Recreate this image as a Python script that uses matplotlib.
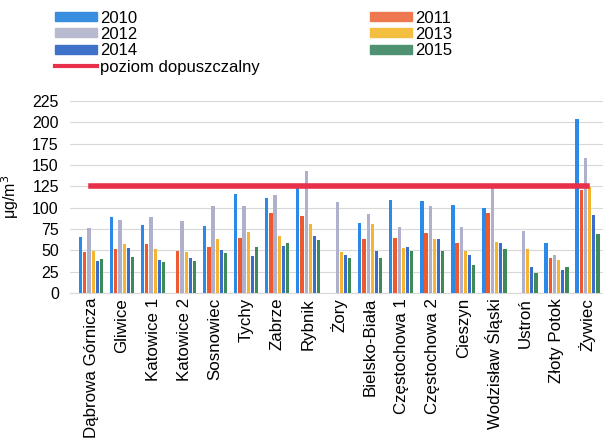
import numpy as np
import matplotlib.pyplot as plt
from matplotlib.lines import Line2D
from matplotlib.patches import Patch

plt.rcParams['font.family'] = ['Liberation Sans', 'DejaVu Sans']

miasta = ["Dąbrowa Górnicza", "Gliwice", "Katowice 1", "Katowice 2", "Sosnowiec",
          "Tychy", "Zabrze", "Rybnik", "Żory", "Bielsko-Biała", "Częstochowa 1",
          "Częstochowa 2", "Cieszyn", "Wodzisław Śląski", "Ustroń", "Złoty Potok", "Żywiec"]

lata = ["2010", "2011", "2012", "2013", "2014", "2015"]

v2010 = [65, 89, 80, 0, 79, 116, 111, 124, 0, 82, 109, 108, 103, 100, 0, 59, 204]
v2011 = [48, 52, 57, 49, 54, 64, 94, 90, 0, 63, 64, 70, 58, 94, 0, 41, 120]
v2012 = [76, 85, 89, 84, 102, 102, 115, 143, 107, 93, 77, 102, 77, 124, 72, 45, 158]
v2013 = [49, 57, 52, 48, 63, 71, 67, 81, 48, 81, 53, 63, 49, 60, 52, 39, 124]
v2014 = [37, 53, 39, 41, 50, 43, 55, 67, 45, 49, 54, 63, 45, 58, 31, 27, 91]
v2015 = [40, 42, 36, 38, 47, 54, 58, 62, 41, 41, 49, 49, 33, 52, 23, 30, 69]

poziom_dopuszczalny = 125

kolory = ["#2B8AE8", "#EE5A30", "#AEB0CC", "#F6B433", "#3A6DCC", "#3E8A58"]
kolory_legendy = ["#3A8EE0", "#EE7850", "#B8BAD0", "#F4BE40", "#3E72C8", "#4E9272"]

serie = [v2010, v2011, v2012, v2013, v2014, v2015]

fig = plt.figure(figsize=(6.03, 4.48), dpi=100)
ax = fig.add_axes([0.116, 0.346, 0.884, 0.429])

x = np.arange(len(miasta))
slot = 0.135
szer = 0.105
for i, (vals, kol) in enumerate(zip(serie, kolory)):
    ax.bar(x + (i - 2.5) * slot, vals, width=szer, color=kol, zorder=3)

ax.plot([x[0], x[-1]], [poziom_dopuszczalny, poziom_dopuszczalny],
        color="#E8304A", linewidth=4, zorder=4)

ax.set_xlim(-0.68, 16.5)
ax.set_ylim(0, 225)
ax.set_yticks(range(0, 226, 25))
ax.yaxis.grid(True, color="#D8D8D8", linewidth=0.8, zorder=0)
for s in ["top", "right", "left"]:
    ax.spines[s].set_visible(False)
ax.spines["bottom"].set_color("#D8D8D8")
ax.tick_params(axis="both", length=0, labelsize=11.5)
ax.tick_params(axis="y", pad=8)
ax.set_xticks(x)
ax.set_xticklabels(miasta, rotation=90, fontsize=12.2)
ax.set_ylabel("μg/m$^3$", fontsize=11.5, labelpad=8)

# legenda: dwie kolumny
uchwyty = [Patch(color=kolory_legendy[0]), Patch(color=kolory_legendy[2]),
           Patch(color=kolory_legendy[4]),
           Line2D([], [], color="#E8304A", linewidth=3),
           Patch(color=kolory_legendy[1]), Patch(color=kolory_legendy[3]),
           Patch(color=kolory_legendy[5])]
opisy = ["2010", "2012", "2014", "poziom dopuszczalny", "2011", "2013", "2015"]
fig.legend(uchwyty, opisy, ncol=2, loc="upper left", bbox_to_anchor=(0.067, 1.01),
           frameon=False, fontsize=12, handlelength=2.5, handleheight=0.45,
           handletextpad=0.2, labelspacing=0.08, columnspacing=6.6)

fig.savefig("out.png", dpi=100)
